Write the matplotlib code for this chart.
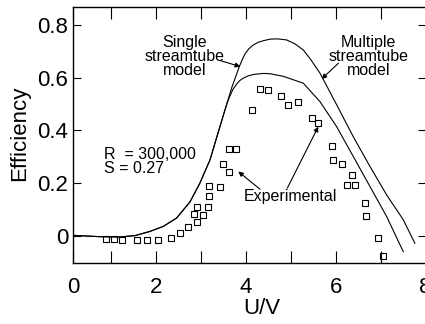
import matplotlib
matplotlib.use("Agg")
import matplotlib.pyplot as plt
from matplotlib.ticker import FixedLocator

plt.rcParams['font.family'] = ['Liberation Sans', 'DejaVu Sans']

# single streamtube model (upper curve)
single_x = [0.150, 0.745, 1.191, 1.525, 1.859, 2.156, 2.454, 2.751, 2.974, 3.196,
            3.382, 3.531, 3.687, 3.850, 3.920, 3.977, 4.060, 4.162, 4.270, 4.384,
            4.534, 4.712, 4.906, 5.091, 5.276, 5.448, 5.648, 6.020, 6.390, 6.763,
            7.135, 7.505, 7.763]
single_y = [0.002, -0.003, -0.004, 0.001, 0.017, 0.036, 0.068, 0.129, 0.201, 0.288,
            0.394, 0.478, 0.565, 0.642, 0.670, 0.690, 0.709, 0.724, 0.734, 0.740,
            0.746, 0.747, 0.743, 0.728, 0.705, 0.667, 0.617, 0.497, 0.376, 0.263,
            0.155, 0.061, -0.028]

# multiple streamtube model (lower curve), same rise as the single one
multi_x = [0.150, 0.745, 1.191, 1.525, 1.859, 2.156, 2.454, 2.751, 2.974, 3.196,
           3.382, 3.531, 3.580, 3.642, 3.710, 3.792, 3.860, 3.939, 4.050, 4.162,
           4.384, 4.534, 4.830, 5.276, 5.648, 6.020, 6.390, 6.763, 7.135, 7.505]
multi_y = [0.002, -0.003, -0.004, 0.001, 0.017, 0.036, 0.068, 0.129, 0.201, 0.288,
           0.394, 0.478, 0.505, 0.531, 0.556, 0.576, 0.589, 0.598, 0.607, 0.612,
           0.616, 0.615, 0.605, 0.579, 0.509, 0.414, 0.301, 0.187, 0.073, -0.060]

# experimental points
exp_x = [0.879, 1.057, 1.229, 1.576, 1.786, 2.044, 2.321, 2.528, 2.713, 2.900,
         2.847, 3.034, 2.900, 3.145, 3.181, 3.181, 3.419, 3.493, 3.627, 3.627,
         3.776, 4.139, 4.311, 4.496, 4.779, 4.928, 5.165, 5.470, 5.610, 5.922,
         5.945, 6.145, 6.368, 6.243, 6.435, 6.651, 6.680, 6.947, 7.059]
exp_y = [-0.011, -0.011, -0.014, -0.015, -0.014, -0.014, -0.009, 0.010, 0.033, 0.054,
         0.083, 0.080, 0.111, 0.111, 0.153, 0.191, 0.186, 0.272, 0.244, 0.329,
         0.329, 0.477, 0.558, 0.552, 0.530, 0.497, 0.509, 0.446, 0.427, 0.339,
         0.287, 0.274, 0.229, 0.193, 0.192, 0.124, 0.075, -0.008, -0.075]

xtick_pos = [0.15, 2, 4, 6, 8]
xtick_labels = ['0', '2', '4', '6', '8']
ytick_pos = [0, 0.2, 0.4, 0.6, 0.8]
ytick_labels = ['0', '0.2', '0.4', '0.6', '0.8']

fig = plt.figure(figsize=(4.25, 3.24), dpi=100)
ax = fig.add_axes([0.1725, 0.1873, 0.8287, 0.7920])

ax.plot(single_x, single_y, color='black', lw=0.8)
ax.plot(multi_x, multi_y, color='black', lw=0.8)
ax.plot(exp_x, exp_y, linestyle='none', marker='s', ms=5, mfc='none',
        mec='black', mew=0.8)

ax.set_xlim(0.15, 8.0)
ax.set_ylim(-0.104, 0.869)
ax.set_xticks(xtick_pos)
ax.set_xticklabels(xtick_labels)
ax.xaxis.set_minor_locator(FixedLocator([1, 3, 5, 7]))
ax.set_yticks(ytick_pos)
ax.set_yticklabels(ytick_labels)
ax.tick_params(axis='x', which='both', direction='in', top=True, length=8.5,
               width=0.8, labelsize=16, pad=10)
ax.tick_params(axis='y', direction='in', right=True, length=6, width=0.8,
               labelsize=16, pad=3.5)
for sp in ax.spines.values():
    sp.set_linewidth(1.0)

ax.set_xlabel('U/V', fontsize=16)
ax.xaxis.set_label_coords(0.536, -0.135)
ax.set_ylabel('Efficiency', fontsize=16)
ax.yaxis.set_label_coords(-0.123, 0.508)

arrow = dict(arrowstyle='-|>', lw=0.8, color='black', mutation_scale=7,
             shrinkA=0, shrinkB=0)
ax.text(2.64, 0.680, 'Single\nstreamtube\nmodel', ha='center', va='center',
        fontsize=11.5, linespacing=0.95)
ax.text(6.725, 0.680, 'Multiple\nstreamtube\nmodel', ha='center', va='center',
        fontsize=11.5, linespacing=0.95)
ax.annotate('', xy=(3.87, 0.642), xytext=(3.42, 0.665), arrowprops=arrow)
ax.annotate('', xy=(5.686, 0.595), xytext=(6.06, 0.655), arrowprops=arrow)

ax.text(0.841, 0.282, 'R  = 300,000\nS = 0.27', ha='left', va='center',
        fontsize=11.5, linespacing=0.95)

ax.text(4.995, 0.149, 'Experimental', ha='center', va='center', fontsize=11.5)
ax.annotate('', xy=(3.827, 0.244), xytext=(4.311, 0.177), arrowprops=arrow)
ax.annotate('', xy=(5.610, 0.414), xytext=(4.919, 0.181), arrowprops=arrow)

fig.savefig('out.png', dpi=100)
